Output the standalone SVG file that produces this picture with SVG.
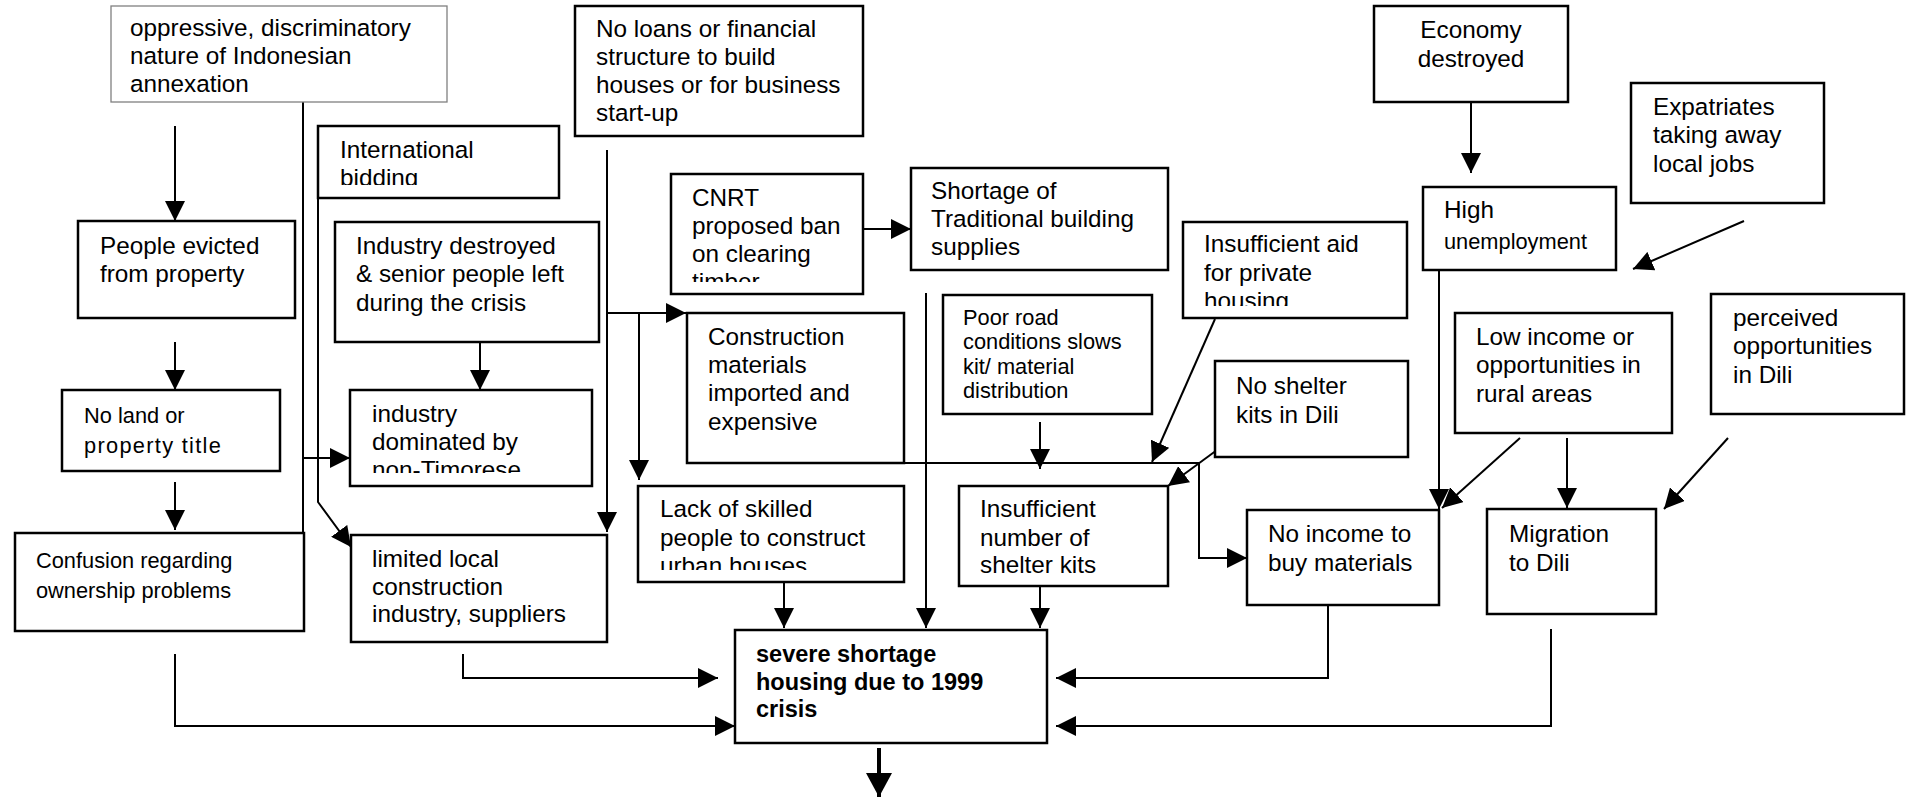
<svg xmlns="http://www.w3.org/2000/svg" width="1910" height="800" viewBox="0 0 1910 800">
<style>
.box{fill:#fff;stroke:#000;stroke-width:2.5}
.thin{fill:#fff;stroke:#808080;stroke-width:1.3}
text{font-family:"Liberation Sans",Arial,sans-serif;font-size:24.3px;fill:#000}
.s{font-size:21.8px}
.b{font-weight:bold;font-size:23.5px}
.c{text-anchor:middle}
.ls{letter-spacing:1.3px}
#connectors path{fill:none;stroke:#000;stroke-width:2}
#connectors path.thick{stroke-width:4}
</style>
<defs>
<marker id="ah" viewBox="0 0 20 20" markerWidth="20" markerHeight="20" refX="20" refY="10" orient="auto" markerUnits="userSpaceOnUse"><path d="M0,0 L20,10 L0,20 z" fill="#000"/></marker>
<marker id="ahb" viewBox="0 0 24 26" markerWidth="24" markerHeight="26" refX="24" refY="13" orient="auto" markerUnits="userSpaceOnUse"><path d="M0,0 L24,13 L0,26 z" fill="#000"/></marker>
<clipPath id="clipIntl"><rect x="318" y="126" width="241" height="59"/></clipPath>
<clipPath id="clipCnrt"><rect x="671" y="174" width="192" height="108"/></clipPath>
<clipPath id="clipAid"><rect x="1183" y="222" width="224" height="84"/></clipPath>
<clipPath id="clipInd"><rect x="350" y="390" width="242" height="83"/></clipPath>
<clipPath id="clipLack"><rect x="638" y="486" width="266" height="84"/></clipPath>
</defs>
<rect width="1910" height="800" fill="#fff"/>

<g id="connectors">
<path d="M175,126 V221" marker-end="url(#ah)"/>
<path d="M303,102 V534"/>
<path d="M303,458 H350" marker-end="url(#ah)"/>
<path d="M318,198 V502 L351,547" marker-end="url(#ah)"/>
<path d="M480,342 V390" marker-end="url(#ah)"/>
<path d="M607,150 V532" marker-end="url(#ah)"/>
<path d="M607,313 H686" marker-end="url(#ah)"/>
<path d="M639,313 V480" marker-end="url(#ah)"/>
<path d="M926,293 V628" marker-end="url(#ah)"/>
<path d="M904,463 H1199 V558 H1247" marker-end="url(#ah)"/>
<path d="M1040,422 V469" marker-end="url(#ah)"/>
<path d="M1215,319 L1152,462" marker-end="url(#ah)"/>
<path d="M1232,439 L1168,486" marker-end="url(#ah)"/>
<path d="M1040,586 V628" marker-end="url(#ah)"/>
<path d="M784,582 V628" marker-end="url(#ah)"/>
<path d="M1439,270 V509" marker-end="url(#ah)"/>
<path d="M1520,438 L1442,508" marker-end="url(#ah)"/>
<path d="M1567,438 V508" marker-end="url(#ah)"/>
<path d="M1728,438 L1664,509" marker-end="url(#ah)"/>
<path d="M1328,605 V678 H1056" marker-end="url(#ah)"/>
<path d="M1551,629 V726 H1056" marker-end="url(#ah)"/>
<path d="M463,654 V678 H718" marker-end="url(#ah)"/>
<path d="M175,654 V726 H735" marker-end="url(#ah)"/>
<path class="thick" d="M879,748 V797" marker-end="url(#ahb)"/>
<path d="M175,342 V390" marker-end="url(#ah)"/>
<path d="M175,482 V530" marker-end="url(#ah)"/>
<path d="M1471,102 V173" marker-end="url(#ah)"/>
<path d="M1744,221 L1633,269" marker-end="url(#ah)"/>
<path d="M863,229 H911" marker-end="url(#ah)"/>
</g>

<g id="n-oppressive">
<rect class="thin" x="111" y="6" width="336" height="96"/>
<text x="130" y="36">oppressive, discriminatory</text>
<text x="130" y="64">nature of Indonesian</text>
<text x="130" y="92">annexation</text>
</g>

<g id="n-noloans">
<rect class="box" x="575" y="6" width="288" height="130"/>
<text x="596" y="37">No loans or financial</text>
<text x="596" y="65">structure to build</text>
<text x="596" y="93">houses or for business</text>
<text x="596" y="121">start-up</text>
</g>

<g id="n-intl">
<rect class="box" x="318" y="126" width="241" height="72"/>
<g clip-path="url(#clipIntl)">
<text x="340" y="158">International</text>
<text x="340" y="186">bidding</text>
</g>
</g>

<g id="n-evicted">
<rect class="box" x="78" y="221" width="217" height="97"/>
<text x="100" y="254">People evicted</text>
<text x="100" y="282">from property</text>
</g>

<g id="n-inddestroyed">
<rect class="box" x="335" y="222" width="264" height="120"/>
<text x="356" y="254">Industry destroyed</text>
<text x="356" y="282">&amp; senior people left</text>
<text x="356" y="311">during the crisis</text>
</g>

<g id="n-cnrt">
<rect class="box" x="671" y="174" width="192" height="120"/>
<g clip-path="url(#clipCnrt)">
<text x="692" y="206">CNRT</text>
<text x="692" y="234">proposed ban</text>
<text x="692" y="262">on clearing</text>
<text x="692" y="290">timber</text>
</g>
</g>

<g id="n-shortage">
<rect class="box" x="911" y="168" width="257" height="102"/>
<text x="931" y="199">Shortage of</text>
<text x="931" y="227">Traditional building</text>
<text x="931" y="255">supplies</text>
</g>

<g id="n-economy">
<rect class="box" x="1374" y="6" width="194" height="96"/>
<text class="c" x="1471" y="38">Economy</text>
<text class="c" x="1471" y="67">destroyed</text>
</g>

<g id="n-expat">
<rect class="box" x="1631" y="83" width="193" height="120"/>
<text x="1653" y="115">Expatriates</text>
<text x="1653" y="143">taking away</text>
<text x="1653" y="172">local jobs</text>
</g>

<g id="n-unemp">
<rect class="box" x="1423" y="187" width="193" height="83"/>
<text x="1444" y="218">High</text>
<text class="s" x="1444" y="249">unemployment</text>
</g>

<g id="n-aid">
<rect class="box" x="1183" y="222" width="224" height="96"/>
<g clip-path="url(#clipAid)">
<text x="1204" y="252">Insufficient aid</text>
<text x="1204" y="281">for private</text>
<text x="1204" y="309">housing</text>
</g>
</g>

<g id="n-road">
<rect class="box" x="943" y="295" width="209" height="119"/>
<text class="s" x="963" y="325">Poor road</text>
<text class="s" x="963" y="349">conditions slows</text>
<text class="s" x="963" y="374">kit/ material</text>
<text class="s" x="963" y="398">distribution</text>
</g>

<g id="n-noshelter">
<rect class="box" x="1215" y="361" width="193" height="96"/>
<text x="1236" y="394">No shelter</text>
<text x="1236" y="423">kits in Dili</text>
</g>

<g id="n-lowincome">
<rect class="box" x="1455" y="313" width="217" height="120"/>
<text x="1476" y="345">Low income or</text>
<text x="1476" y="373">opportunities in</text>
<text x="1476" y="402">rural areas</text>
</g>

<g id="n-perceived">
<rect class="box" x="1711" y="294" width="193" height="120"/>
<text x="1733" y="326">perceived</text>
<text x="1733" y="354">opportunities</text>
<text x="1733" y="383">in Dili</text>
</g>

<g id="n-noincome">
<rect class="box" x="1247" y="510" width="192" height="95"/>
<text x="1268" y="542">No income to</text>
<text x="1268" y="571">buy materials</text>
</g>

<g id="n-migration">
<rect class="box" x="1487" y="509" width="169" height="105"/>
<text x="1509" y="542">Migration</text>
<text x="1509" y="571">to Dili</text>
</g>

<g id="n-noland">
<rect class="box" x="62" y="390" width="218" height="81"/>
<text class="s" x="84" y="423">No land or</text>
<text class="s ls" x="84" y="453">property title</text>
</g>

<g id="n-confusion">
<rect class="box" x="15" y="533" width="289" height="98"/>
<text class="s" x="36" y="568">Confusion regarding</text>
<text class="s" x="36" y="598">ownership problems</text>
</g>

<g id="n-inddominated">
<rect class="box" x="350" y="390" width="242" height="96"/>
<g clip-path="url(#clipInd)">
<text x="372" y="422">industry</text>
<text x="372" y="450">dominated by</text>
<text x="372" y="478">non-Timorese</text>
</g>
</g>

<g id="n-limited">
<rect class="box" x="351" y="535" width="256" height="107"/>
<text x="372" y="567">limited local</text>
<text x="372" y="595">construction</text>
<text x="372" y="622">industry, suppliers</text>
</g>

<g id="n-materials">
<rect class="box" x="687" y="313" width="217" height="150"/>
<text x="708" y="345">Construction</text>
<text x="708" y="373">materials</text>
<text x="708" y="401">imported and</text>
<text x="708" y="430">expensive</text>
</g>

<g id="n-lack">
<rect class="box" x="638" y="486" width="266" height="96"/>
<g clip-path="url(#clipLack)">
<text x="660" y="517">Lack of skilled</text>
<text x="660" y="546">people to construct</text>
<text x="660" y="574">urban houses</text>
</g>
</g>

<g id="n-kits">
<rect class="box" x="959" y="486" width="209" height="100"/>
<text x="980" y="517">Insufficient</text>
<text x="980" y="546">number of</text>
<text x="980" y="573">shelter kits</text>
</g>

<g id="n-severe">
<rect class="box" x="735" y="630" width="312" height="113"/>
<text class="b" x="756" y="662">severe shortage</text>
<text class="b" x="756" y="690">housing due to 1999</text>
<text class="b" x="756" y="717">crisis</text>
</g>
</svg>
